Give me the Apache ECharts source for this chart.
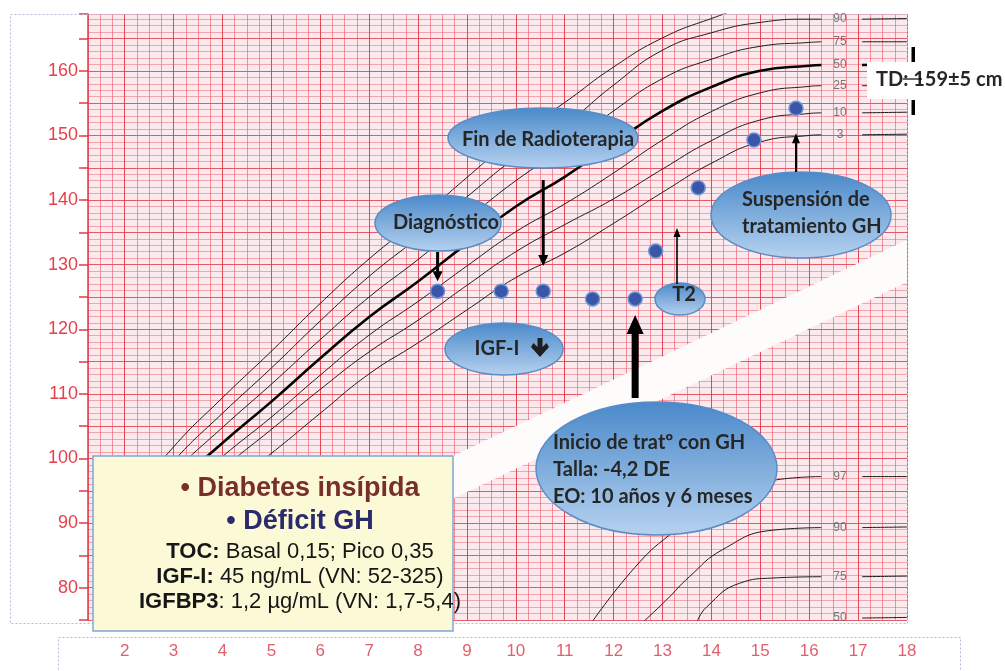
<!DOCTYPE html>
<html><head><meta charset="utf-8"><title>Curva de crecimiento</title>
<script src="https://cdn.jsdelivr.net/npm/echarts@6.0.0/dist/echarts.min.js"></script>
<style>html,body{margin:0;padding:0;background:#fff;}#chart{width:1005px;height:671px;}</style>
</head><body><div id="chart"></div>
<script>
// ---- Reference percentile curves (talla, cm) ----
const curveAges = [2, 3, 4, 5, 6, 7, 8, 9, 10, 11, 12, 13, 14, 15, 16, 16.25];
const tailAges = [17.08, 18];
const p97 = [92.5, 101.8, 109.4, 116.6, 124.0, 130.9, 137.0, 143.5, 149.9, 155.1, 160.6, 165.1, 168.1, 170.5, 171.3, 171.4];
const p90 = [90.6, 99.6, 107.0, 114.0, 121.3, 128.2, 134.2, 140.5, 146.6, 151.6, 157.8, 163.2, 165.9, 167.5, 168.0, 168.0];
const p75 = [88.9, 97.7, 104.8, 111.5, 118.4, 125.0, 130.8, 137.0, 143.0, 148.1, 153.8, 158.8, 161.8, 163.8, 164.4, 164.5];
const p50 = [87.0, 95.5, 102.4, 108.8, 115.5, 121.9, 127.4, 133.3, 139.0, 143.6, 148.8, 153.8, 157.5, 160.0, 160.8, 160.9];
const p25 = [85.3, 93.6, 100.3, 106.4, 112.9, 119.1, 124.3, 129.8, 135.1, 139.4, 144.2, 149.3, 153.7, 156.6, 157.6, 157.7];
const p10 = [83.7, 91.8, 98.4, 104.5, 110.7, 116.5, 121.4, 126.8, 132.0, 136.2, 140.2, 144.8, 149.2, 152.4, 153.4, 153.5];
const p3  = [81.0, 88.9, 95.1, 100.8, 107.0, 113.1, 117.9, 123.0, 128.0, 131.8, 136.4, 141.2, 145.7, 149.0, 150.0, 150.1];
const p97Tail = [171.4, 171.4];
const p90Tail = [168.0, 168.1];
const p75Tail = [164.5, 164.5];
const p50Tail = [160.9, 161.0];
const p25Tail = [157.7, 157.7];
const p10Tail = [153.5, 153.6];
const p3Tail  = [150.1, 150.2];
const upperNames = ['90', '75', '50', '25', '10', '3'];

// ---- Lower chart (second sheet) curves seen at bottom right ----
const w97Age = [11.55, 12.43, 13.15, 14.17, 15.33, 16.25];
const w97 = [74.6, 83.1, 88.2, 93.6, 96.7, 97.2];
const w97Tail = [97.2, 97.2];
const w90Age = [12.59, 13.08, 13.55, 14.23, 15.25, 16.25];
const w90 = [74.6, 78.1, 81.7, 85.9, 88.9, 89.3];
const w90Tail = [89.3, 89.4];
const w75Age = [13.70, 13.90, 14.58, 15.26, 16.25];
const w75 = [74.6, 77.0, 80.7, 81.5, 81.7];
const w75Tail = [81.7, 81.8];
const w50Tail = [75.3, 75.4];
const lowerNames = ['97', '90', '75', '50'];

// ---- Patient measurements (edad, talla) ----
const patientAge = [8.40, 9.70, 10.56, 11.57, 12.44, 12.86, 13.73, 14.87, 15.73];
const patientHeight = [125.9, 125.9, 125.9, 124.7, 124.7, 132.1, 141.9, 149.3, 154.2];

// ---- White band where the two sheets overlap (edad, talla) ----
const bandAge = [7.5, 18, 18, 7.5];
const bandHeight = [96.0, 133.8, 127.3, 89.4];

const labelAge = 16.63;

const chart = echarts.init(document.getElementById('chart'));

function curve(ages, vals, tail, width, color) {
  const data = ages.map((a, i) => [a, vals[i]]);
  if (tail) {
    data.push([16.66, '-']);
    tailAges.forEach((a, i) => data.push([a, tail[i]]));
  }
  return {
    type: 'line', data: data, symbol: 'none', smooth: 0.5,
    connectNulls: false, clip: true, silent: true, z: 3,
    lineStyle: { color: color || '#1c1c1c', width: width || 1 }
  };
}

const minorX = 'rgba(236,82,98,0.6)', majorX = 'rgba(226,46,62,0.85)';
const minorY = 'rgba(238,105,120,0.55)', majorY = 'rgba(226,52,68,0.8)';

const upperTails = [p90Tail, p75Tail, p50Tail, p25Tail, p10Tail, p3Tail];
const lowerTails = [w97Tail, w90Tail, w75Tail, w50Tail];

const option = {
  animation: false,
  grid: { left: 88, top: 14, width: 819, height: 606, show: true, backgroundColor: '#fbeaed', borderWidth: 0 },
  xAxis: [{
    type: 'value', min: 1.25, max: 18, interval: 0.25,
    axisLine: { show: false }, axisTick: { show: false },
    axisLabel: {
      margin: 23, color: '#e0606e', fontSize: 17, fontFamily: 'Liberation Sans',
      formatter: v => (Number.isInteger(v) && v >= 2) ? String(v) : ''
    },
    splitLine: { show: true, lineStyle: { color: [minorX, minorX, minorX, majorX], width: 1 } }
  }],
  yAxis: [{
    type: 'value', min: 75, max: 168.8, interval: 1,
    axisLine: { show: false }, axisTick: { show: false }, axisLabel: { show: false },
    splitLine: { show: true, lineStyle: { color: [majorY, minorY, minorY, minorY, minorY], width: 1 } }
  }, {
    type: 'value', min: 75, max: 168.8, interval: 5, position: 'left',
    axisLine: { show: true, lineStyle: { color: '#e23a48', width: 1.5 } },
    axisTick: { show: true, length: 9, lineStyle: { color: '#e23a48', width: 1.5 } },
    axisLabel: {
      margin: 10, color: '#e5404c', fontSize: 18, fontFamily: 'Liberation Sans',
      formatter: v => (v % 10 === 0 && v <= 160) ? String(v) : ''
    },
    splitLine: { show: false }
  }],
  series: [
    {
      type: 'custom', coordinateSystem: 'cartesian2d', silent: true, z: 2, clip: true,
      data: [[bandAge[0], bandHeight[0]]],
      renderItem: function (params, api) {
        const pts = bandAge.map((a, i) => api.coord([a, bandHeight[i]]));
        return { type: 'polygon', shape: { points: pts }, style: { fill: '#fefbfb' } };
      }
    },
    curve(curveAges, p97, p97Tail),
    curve(curveAges, p90, p90Tail),
    curve(curveAges, p75, p75Tail),
    curve(curveAges, p50, p50Tail, 2.6, '#050505'),
    curve(curveAges, p25, p25Tail),
    curve(curveAges, p10, p10Tail),
    curve(curveAges, p3, p3Tail),
    curve(w97Age, w97, w97Tail),
    curve(w90Age, w90, w90Tail),
    curve(w75Age, w75, w75Tail),
    curve([], [], w50Tail),
    {
      type: 'scatter', symbolSize: 0, silent: true, z: 4,
      data: upperNames.map((n, i) => ({ name: n, value: [labelAge, upperTails[i][0]] }))
        .concat(lowerNames.map((n, i) => ({ name: n, value: [labelAge, lowerTails[i][0]] }))),
      label: { show: true, position: 'inside', formatter: '{b}', color: '#5a5a5a', fontSize: 12, fontFamily: 'Liberation Sans' }
    },
    {
      type: 'scatter', symbolSize: 14, z: 10, silent: true,
      data: patientAge.map((a, i) => [a, patientHeight[i]]),
      itemStyle: { color: '#3a56a8', borderColor: '#7095d4', borderWidth: 1.5, opacity: 1 }
    }
  ]
};
chart.setOption(option);

// ---- Annotations ----
const px = (a, h) => chart.convertToPixel({ xAxisIndex: 0, yAxisIndex: 0 }, [a, h]);
const grad = () => ({ type: 'linear', x: 0, y: 0, x2: 0, y2: 1,
  colorStops: [{ offset: 0, color: '#4a89ca' }, { offset: 1, color: '#b6d2ef' }] });
function ellipse(cx, cy, rx, ry) {
  return { type: 'ellipse', z: 100, shape: { cx: cx, cy: cy, rx: rx, ry: ry },
    style: { fill: grad(), stroke: '#5a8cc6', lineWidth: 1.5 } };
}
function txt(x, y, text, font, fill, align) {
  return { type: 'text', z: 103, style: { x: x, y: y, text: text, font: font, fill: fill || '#262626',
    align: align || 'center', verticalAlign: 'middle' } };
}
function arrow(x, yBase, yTip, shaftW, headW, headL) {
  const dir = yTip > yBase ? 1 : -1;
  const yNeck = yTip - dir * headL;
  return { type: 'polygon', z: 102, shape: { points: [
    [x - shaftW / 2, yBase], [x + shaftW / 2, yBase], [x + shaftW / 2, yNeck], [x + headW / 2, yNeck],
    [x, yTip], [x - headW / 2, yNeck], [x - shaftW / 2, yNeck]] }, style: { fill: '#000' } };
}
const calloutFont = 'bold 20px Lato';
const d0 = px(patientAge[0], patientHeight[0]);
const d2 = px(patientAge[2], patientHeight[2]);
const d4 = px(patientAge[4], patientHeight[4]);
const d8 = px(patientAge[8], patientHeight[8]);

const boxFont = '22px "Liberation Sans"';
const rich = {
  b: { fontWeight: 'bold', fontSize: 22, fontFamily: 'Liberation Sans', fill: '#161616', color: '#161616' },
  r: { fontSize: 22, fontFamily: 'Liberation Sans', fill: '#161616', color: '#161616' }
};
function richTxt(x, y, text) {
  return { type: 'text', z: 103, style: { x: x, y: y, text: text, rich: rich, align: 'center', verticalAlign: 'middle', font: boxFont, fill: '#161616' } };
}

const graphics = [
  // frames
  { type: 'rect', z: 90, shape: { x: 10.5, y: 14.5, width: 897, height: 609 }, style: { fill: null, stroke: '#b9b9de', lineWidth: 1, lineDash: [2, 2] } },
  { type: 'rect', z: 90, shape: { x: 58.5, y: 637.5, width: 902, height: 40 }, style: { fill: null, stroke: '#b9b9de', lineWidth: 1, lineDash: [2, 2] } },
  // info box
  { type: 'rect', z: 100, shape: { x: 93, y: 456, width: 360, height: 175 }, style: { fill: '#fcfad6', stroke: '#7fa6d3', lineWidth: 1.5 } },
  txt(300, 489, '• Diabetes insípida', 'bold 27px "Liberation Sans"', '#7a2e2b'),
  txt(300, 522, '• Déficit GH', 'bold 27px "Liberation Sans"', '#2b2a6d'),
  richTxt(300, 552, '{b|TOC:}{r| Basal 0,15; Pico 0,35}'),
  richTxt(300, 577, '{b|IGF-I:}{r| 45 ng/mL (VN: 52-325)}'),
  richTxt(300, 602, '{b|IGFBP3}{r|: 1,2 µg/mL (VN: 1,7-5,4)}'),
  // Fin de Radioterapia
  ellipse(543, 138, 95, 30),
  txt(548, 140, 'Fin de Radioterapia', calloutFont),
  arrow(d2[0], 180, 266, 3, 10, 11),
  // Diagnóstico
  ellipse(438, 223, 63, 28),
  txt(446, 223, 'Diagnóstico', calloutFont),
  arrow(d0[0], 252, d0[1] - 10, 3, 10, 10),
  // IGF-I
  ellipse(504, 349, 59, 26),
  txt(497, 349, 'IGF-I', calloutFont, '#262626', 'center'),
  { type: 'polygon', z: 103, shape: { points: [[537.5, 338], [542.5, 338], [542.5, 347], [546.5, 343], [549, 347], [540, 357], [531, 347], [533.5, 343], [537.5, 347]] }, style: { fill: '#1e1e1e' } },
  // T2
  ellipse(680, 299, 25, 16),
  txt(684, 295, 'T2', 'bold 20px Lato'),
  arrow(677, 284, 228, 1.6, 7, 9),
  // Inicio
  ellipse(656.5, 468.5, 120.5, 66.5),
  txt(553, 443, 'Inicio de tratº con GH', calloutFont, '#262626', 'left'),
  txt(553, 470, 'Talla: -4,2 DE', calloutFont, '#262626', 'left'),
  txt(553, 497, 'EO: 10 años y 6 meses', calloutFont, '#262626', 'left'),
  arrow(d4[0], 398, d4[1] + 16, 7, 17, 19),
  // Suspensión
  ellipse(801, 215, 90, 43),
  txt(742, 200, 'Suspensión de', calloutFont, '#262626', 'left'),
  txt(742, 227, 'tratamiento GH', calloutFont, '#262626', 'left'),
  arrow(d8[0], 172, d8[1] + 25, 2, 8, 10),
  // TD
  { type: 'rect', z: 100, shape: { x: 867, y: 62, width: 138, height: 37 }, style: { fill: '#ffffff' } },
  txt(876, 80, 'TD: 159±5 cm', 'bold 20px Lato', '#262626', 'left'),
  { type: 'rect', z: 104, shape: { x: 911.5, y: 47, width: 3.5, height: 15 }, style: { fill: '#000' } },
  { type: 'rect', z: 104, shape: { x: 911.5, y: 100, width: 3.5, height: 15 }, style: { fill: '#000' } },
  { type: 'line', z: 104, shape: { x1: 903, y1: 79, x2: 922, y2: 79 }, style: { stroke: '#000', lineWidth: 1.2 } }
];
chart.setOption({ graphic: { elements: graphics } });
</script></body></html>
